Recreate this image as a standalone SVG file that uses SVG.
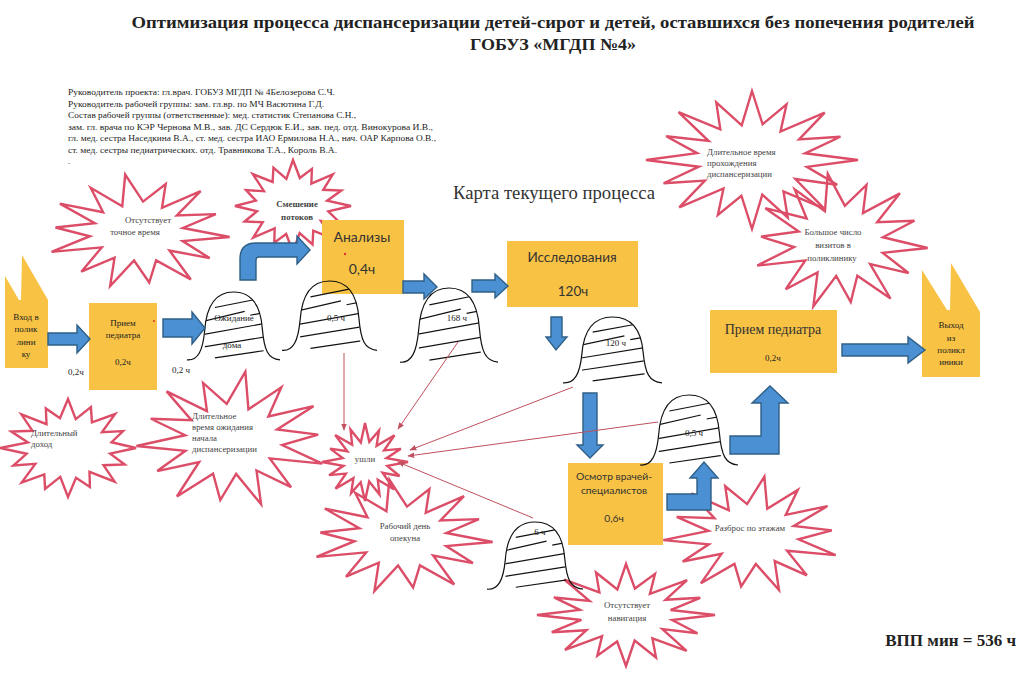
<svg xmlns="http://www.w3.org/2000/svg" xmlns:xlink="http://www.w3.org/1999/xlink" width="1024" height="674" viewBox="0 0 1024 674">
<style>
.bg{fill:#ffffff}
.box{fill:#F8C244}
.burst{fill:none;stroke:#dc4d68;stroke-width:2.4;stroke-linejoin:miter}
.barr{fill:#4a90d2;stroke:#2f5f86;stroke-width:1.4;stroke-linejoin:miter}
.conn{fill:none;stroke:#c0505e;stroke-width:1}
.ser{font-family:"Liberation Serif","Times New Roman",serif;fill:#333}
.sans{font-family:Lato,"Liberation Sans",sans-serif;fill:#333}
.title{font-family:"Liberation Serif","Times New Roman",serif;font-weight:bold;font-size:17px;fill:#222}
.team{font-family:"Liberation Serif","Times New Roman",serif;font-size:8.6px;fill:#222}
.bt{font-family:"Liberation Serif","Times New Roman",serif;font-size:8.8px;fill:#444}
.bl{font-family:"Liberation Serif","Times New Roman",serif;font-size:9px;fill:#222}
</style>
<defs>
<marker id="ah" viewBox="0 0 10 10" refX="9" refY="5" markerWidth="7" markerHeight="7" orient="auto"><path d="M0,1 L10,5 L0,9 z" fill="#c0505e"/></marker>
<clipPath id="bellclip"><path d="M19,70 L19,40 C21,12 32,0 50,0 C68,0 79,12 81,38 L83,70 Z"/></clipPath>
<g id="bell">
<path d="M0,70 C12,71 17,60 19,40 C21,12 32,0 50,0 C68,0 79,12 81,38 C83,60 87,69 100,70" fill="none" stroke="#111" stroke-width="1.2" vector-effect="non-scaling-stroke"/>
<g clip-path="url(#bellclip)" stroke="#111" stroke-width="1.2" fill="none">
<path vector-effect="non-scaling-stroke" d="M30,16 L72,8"/>
<path vector-effect="non-scaling-stroke" d="M18,30 L62,20"/>
<path vector-effect="non-scaling-stroke" d="M68,24 L84,21"/>
<path vector-effect="non-scaling-stroke" d="M16,44 L86,32"/>
<path vector-effect="non-scaling-stroke" d="M16,57 L86,46"/>
<path vector-effect="non-scaling-stroke" d="M30,68 L86,60"/>
</g>
</g>
<path id="burst1" vector-effect="non-scaling-stroke" d="M100,0 L51.8,10 L80.4,35.8 L40.9,27.5 L68.1,70.5 L29.7,45.6 L33.7,83.4 L9.7,50.1 L0,100 L-10,51.8 L-32.2,79.7 L-26.9,41.3 L-68.6,68.6 L-44.4,29.9 L-83.4,33.7 L-50.1,9.7 L-100,0 L-51.8,-10 L-81,-34.4 L-40.9,-27.5 L-69.3,-69.3 L-29.9,-44.4 L-33.7,-83.4 L-9.7,-50.1 L0,-100 L10,-51.8 L32.6,-80.7 L26.9,-41.3 L68.6,-68.6 L44.4,-29.9 L83.4,-33.7 L50.1,-9.7 Z"/>
<path id="burst2" vector-effect="non-scaling-stroke" d="M99.6,8.7 L48.5,15.7 L77.9,45 L34.2,31.9 L57.4,81.9 L19.7,48.9 L12.2,87.1 L-4.3,49.1 L-30.3,93.2 L-25.5,44.2 L-61.6,68.4 L-39.4,26.6 L-94,34.2 L-52.2,7.3 L-89.7,-7.8 L-46.9,-15.2 L-84.9,-49 L-37.9,-34.1 L-51.4,-76.3 L-17.1,-44.5 L-13.9,-99 L5.5,-52.4 L30.1,-82.7 L26.1,-41.8 L68.1,-70.5 L42.2,-28.6 L84.6,-30.8 L48.8,-6.9 Z"/>
<path id="burst3" vector-effect="non-scaling-stroke" d="M100,0 L60.9,11.8 L80.4,35.8 L48.1,32.4 L68.1,70.5 L34.9,53.7 L33.7,83.4 L11.4,58.9 L0,100 L-11.8,60.9 L-32.2,79.7 L-31.6,48.6 L-68.6,68.6 L-52.2,35.2 L-83.4,33.7 L-62,11.4 L-100,0 L-64,-11.8 L-81,-34.4 L-50,-32.4 L-69.3,-69.3 L-35.2,-52.2 L-33.7,-83.4 L-11.4,-58.9 L0,-100 L11.8,-60.9 L32.6,-80.7 L31.6,-48.6 L68.6,-68.6 L52.2,-35.2 L83.4,-33.7 L58.9,-11.4 Z"/>
</defs>
<rect class="bg" x="0" y="0" width="1024" height="674"/>

<g id="header">
<text class="title" x="553" y="28" text-anchor="middle" textLength="843" lengthAdjust="spacingAndGlyphs">Оптимизация процесса диспансеризации детей-сирот и детей, оставшихся без попечения родителей</text>
<text class="title" x="553" y="50" text-anchor="middle" textLength="166" lengthAdjust="spacingAndGlyphs">ГОБУЗ «МГДП №4»</text>
</g>

<g id="team">
<text class="team" x="68" y="95" textLength="267" lengthAdjust="spacingAndGlyphs">Руководитель проекта: гл.врач. ГОБУЗ МГДП № 4Белозерова С.Ч.</text>
<text class="team" x="68" y="106.5" textLength="256" lengthAdjust="spacingAndGlyphs">Руководитель рабочей группы: зам. гл.вр. по МЧ Васютина Г.Д.</text>
<text class="team" x="68" y="118" textLength="288" lengthAdjust="spacingAndGlyphs">Состав рабочей группы (ответственные): мед. статистик Степанова С.Н.,</text>
<text class="team" x="68" y="129.5" textLength="365" lengthAdjust="spacingAndGlyphs">зам. гл.  врача по КЭР Чернова М.В., зав. ДС Сердюк Е.И., зав. пед. отд. Винокурова И.В.,</text>
<text class="team" x="68" y="141" textLength="368" lengthAdjust="spacingAndGlyphs">гл. мед. сестра  Наседкина В.А., ст. мед. сестра  ИАО Ермилова Н.А.,  нач. ОАР Карпова О.В.,</text>
<text class="team" x="68" y="152.5" textLength="269" lengthAdjust="spacingAndGlyphs">ст. мед. сестры педиатрических. отд. Травникова Т.А., Король В.А.</text>
<text class="team" x="68" y="164">.</text>
</g>

<text id="map-title" class="ser" x="453" y="199" font-size="18" fill="#222" textLength="202" lengthAdjust="spacingAndGlyphs">Карта текущего процесса</text>

<g id="bursts">
<g id="b-time"><use href="#burst2" class="burst" transform="translate(138,232) scale(0.92,0.58)"/></g>
<g id="b-mix"><use href="#burst3" class="burst" transform="translate(293,206) scale(0.58,0.46)"/></g>
<g id="b-income"><use href="#burst3" class="burst" transform="translate(68,448) scale(-0.68,0.49)"/></g>
<g id="b-wait"><use href="#burst2" class="burst" transform="translate(232,440) scale(-0.96,0.69)"/></g>
<g id="b-left"><use href="#burst1" class="burst" transform="translate(365,462) scale(0.43,0.39)"/></g>
<g id="b-work"><use href="#burst2" class="burst" transform="translate(402,537) scale(0.91,0.58)"/></g>
<g id="b-nav"><use href="#burst1" class="burst" transform="translate(626,615) scale(0.89,0.51)"/></g>
<g id="b-floors"><use href="#burst2" class="burst" transform="translate(752,535) scale(-0.89,0.59)"/></g>
<g id="b-long"><use href="#burst1" class="burst" transform="translate(752,160) scale(1.06,0.69)"/></g>
<g id="b-visits"><use href="#burst2" class="burst" transform="translate(840,242) scale(0.88,0.69)"/></g>
</g>

<g id="entry">
<polygon class="box" points="5,368 5,276 19,300 21,300 22,255 48,300 48,368"/>
<text class="bl" text-anchor="middle" font-size="9.5"><tspan x="26" y="320">Вход в</tspan><tspan x="26" y="332">полик</tspan><tspan x="26" y="345">лини</tspan><tspan x="26" y="357">ку</tspan></text>
</g>

<g id="ped1">
<rect class="box" x="89" y="303" width="68" height="87"/>
<circle cx="154" cy="321" r="1" fill="#d33"/>
<text class="bl" text-anchor="middle" font-size="9.5"><tspan x="123" y="326">Прием</tspan><tspan x="123" y="338">педиатра</tspan><tspan x="123" y="365">0,2ч</tspan></text>
</g>

<g id="analyses">
<rect class="box" x="322" y="220" width="82" height="74"/>
<circle cx="345" cy="254" r="1.2" fill="#d33"/>
<text class="sans" text-anchor="middle" font-size="14"><tspan x="362" y="242">Анализы</tspan><tspan x="362" y="274">0,4ч</tspan></text>
</g>

<g id="research">
<rect class="box" x="507" y="241" width="131" height="66"/>
<text class="sans" text-anchor="middle" font-size="13.5"><tspan x="572" y="262">Исследования</tspan><tspan x="573" y="296">120ч</tspan></text>
</g>

<g id="specialists">
<rect class="box" x="568" y="463" width="95" height="82"/>
<text class="sans" text-anchor="middle" font-size="10.3"><tspan x="614" y="480">Осмотр врачей-</tspan><tspan x="614" y="494">специалистов</tspan><tspan x="614" y="522">0,6ч</tspan></text>
</g>

<g id="ped2">
<rect class="box" x="710" y="310" width="127" height="63"/>
<text class="ser" text-anchor="middle" font-size="14" fill="#333" x="773" y="334">Прием педиатра</text>
<text class="bl" text-anchor="middle" x="773" y="361">0,2ч</text>
</g>

<g id="exit">
<polygon class="box" points="922,377 922,270 947,310 950,310 951,263 980,312 980,377"/>
<text class="bl" text-anchor="middle" font-size="8.6"><tspan x="951" y="328">Выход</tspan><tspan x="951" y="341">из</tspan><tspan x="951" y="353">поликл</tspan><tspan x="951" y="365">иники</tspan></text>
</g>

<g id="waits">
<g id="w-home"><use href="#bell" transform="translate(187,292) scale(0.93,0.97)"/>
<text class="bl" text-anchor="middle" x="234" y="321">Ожидание</text><text class="bl" text-anchor="middle" x="232" y="348">дома</text></g>
<g id="w-05a"><use href="#bell" transform="translate(282,281) scale(0.95,0.99)"/>
<text class="bl" text-anchor="middle" font-size="8.5" x="336" y="321">0,5 ч</text></g>
<g id="w-168"><use href="#bell" transform="translate(400,288) scale(0.98,1.06)"/>
<text class="bl" text-anchor="middle" font-size="8.5" x="457" y="321">168 ч</text></g>
<g id="w-120"><use href="#bell" transform="translate(563,317) scale(0.99,0.94)"/>
<text class="bl" text-anchor="middle" font-size="8.5" x="616" y="346">120 ч</text></g>
<g id="w-05b"><use href="#bell" transform="translate(640,395) scale(0.98,1.0)"/>
<text class="bl" text-anchor="middle" font-size="8.5" x="694" y="436">0,5 ч</text></g>
<g id="w-6"><use href="#bell" transform="translate(487,522) scale(0.96,0.96)"/>
<text class="bl" text-anchor="middle" font-size="11" x="540" y="535">6 ч</text></g>
</g>

<g id="connectors">
<polygon class="barr" points="48,333 77,333 77,325 90,339 77,353 77,345 48,345"/>
<polygon class="barr" points="163,319 192,319 192,312 205,328 192,344 192,337 163,337"/>
<path class="barr" d="M240,280 L240,259 Q240,243 256,243 L297,243 L297,236 L310,250 L297,264 L297,257 L259,257 Q256,257 256,260 L256,280 Z"/>
<polygon class="barr" points="403,281 424,281 424,274 437,287 424,299 424,293 403,293"/>
<polygon class="barr" points="472,280 495,280 495,274 508,286 495,298 495,292 472,292"/>
<polygon class="barr" points="551,317 562,317 562,337 567,337 556,350 546,337 551,337"/>
<polygon class="barr" points="583,393 597,393 597,445 603,445 590,458 577,445 583,445"/>
<polygon class="barr" points="667,494 697,494 697,478 690,478 704,462 718,478 711,478 711,510 667,510"/>
<polygon class="barr" points="730,436 761,436 761,403 752,403 770,386 788,403 779,403 779,454 730,454"/>
<polygon class="barr" points="842,344 908,344 908,337 925,350 908,363 908,356 842,356"/>
<path class="conn" marker-end="url(#ah)" d="M344,353 L344,430"/>
<path class="conn" marker-end="url(#ah)" d="M458,342 L398,429"/>
<path class="conn" marker-end="url(#ah)" d="M573,387 L410,450"/>
<path class="conn" marker-end="url(#ah)" d="M658,422 L408,456"/>
<path class="conn" marker-end="url(#ah)" d="M533,518 L398,462"/>
</g>

<g id="labels">
<text class="bl" x="68" y="375">0,2ч</text>
<text class="bl" x="172" y="373">0,2 ч</text>
<text class="bt" text-anchor="middle"><tspan x="148" y="223">Отсутствует</tspan><tspan x="135" y="235">точное время</tspan></text>
<text class="bt" text-anchor="middle" font-weight="bold" fill="#222"><tspan x="297" y="207">Смешение</tspan><tspan x="297" y="220">потоков</tspan></text>
<text class="bt"><tspan x="31" y="436">Длительный</tspan><tspan x="31" y="447">доход</tspan></text>
<text class="bt"><tspan x="192" y="419">Длительное</tspan><tspan x="192" y="430">время ожидания</tspan><tspan x="192" y="441">начала</tspan><tspan x="192" y="452">диспансеризации</tspan></text>
<text class="bt" text-anchor="middle" fill="#222" x="365" y="462">ушли</text>
<text class="bt" text-anchor="middle"><tspan x="405" y="529">Рабочий день</tspan><tspan x="405" y="541">опекуна</tspan></text>
<text class="bt" text-anchor="middle"><tspan x="627" y="608">Отсутствует</tspan><tspan x="627" y="621">навигация</tspan></text>
<text class="bt" text-anchor="middle" x="750" y="531">Разброс по этажам</text>
<text class="bt" font-size="8.4"><tspan x="707" y="155">Длительное время</tspan><tspan x="707" y="166">прохождения</tspan><tspan x="707" y="177">диспансеризации</tspan></text>
<text class="bt" text-anchor="middle"><tspan x="833" y="235">Большое число</tspan><tspan x="833" y="248">визитов в</tspan><tspan x="832" y="261">поликлинику</tspan></text>
<text class="title" x="1016" y="646" font-size="13" text-anchor="end">ВПП мин = 536 ч</text>
</g>
</svg>
